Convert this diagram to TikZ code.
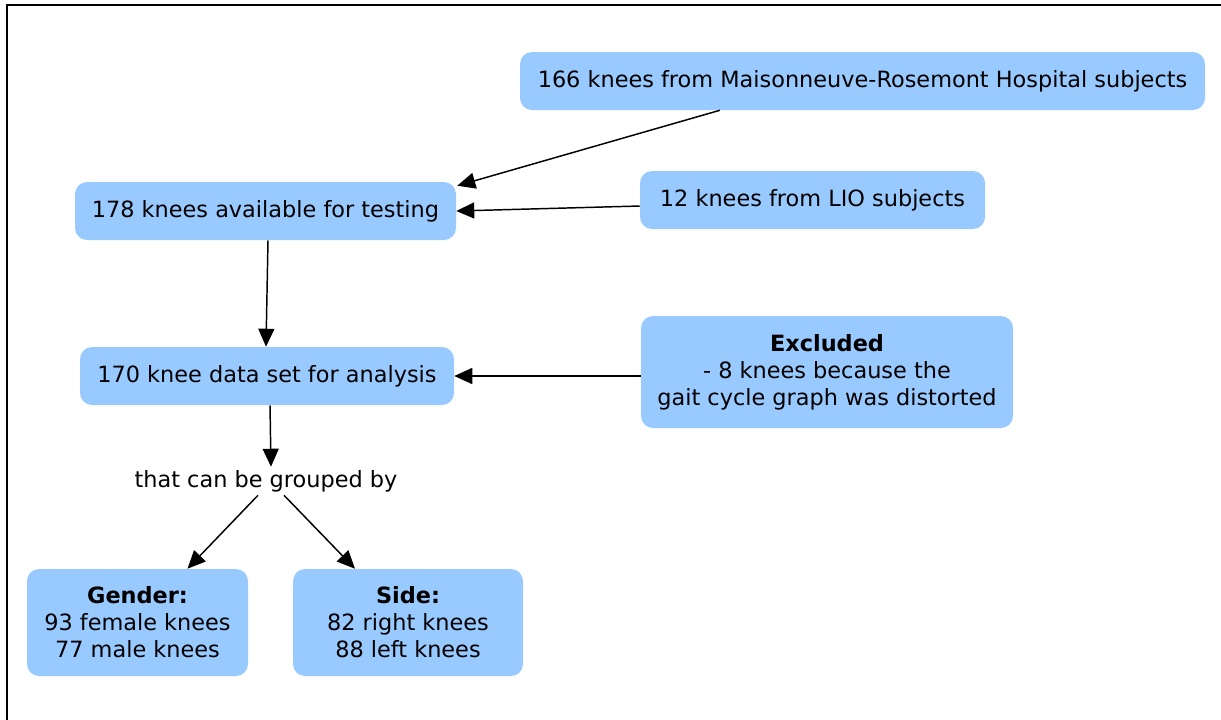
\documentclass[tikz,border=0pt]{standalone}
\usepackage{fontspec}
\setmainfont{DejaVu Sans}
\usetikzlibrary{arrows.meta,calc}
\definecolor{boxblue}{RGB}{153,202,255}
\tikzset{
  box/.style={fill=boxblue, rounded corners=9pt, inner sep=0pt, align=center,
    font=\fontsize{16.8}{20.25}\selectfont},
  arr/.style={-{Triangle[length=13.5pt,width=12pt]}, line width=1.1pt}
}
\begin{document}
\begin{tikzpicture}[x=0.75pt,y=-0.75pt]
  \useasboundingbox (0,0) rectangle (1221,719);
  \clip (0,0) rectangle (1221,719);
  \draw[line width=1.5pt] (7,730)--(7,5)--(1230,5);
  \node[box, minimum width=513.75pt, minimum height=43.5pt] (mrh) at (862.5,81) {166 knees from Maisonneuve-Rosemont Hospital subjects};
  \node[box, minimum width=285.75pt, minimum height=43.5pt] (avail) at (265.5,211) {178 knees available for testing};
  \node[box, minimum width=258.75pt, minimum height=43.5pt] (lio) at (812.5,200) {12 knees from LIO subjects};
  \node[box, minimum width=280.5pt, minimum height=43.5pt] (anal) at (267,376) {170 knee data set for analysis};
  \node[box, minimum width=279pt, minimum height=84pt] (excl) at (827,372) {\textbf{Excluded}\\- 8 knees because the \\gait cycle graph was distorted};
  \node[font=\fontsize{16.8}{20.25}\selectfont, inner sep=0pt, minimum height=21pt] (group) at (266,481) {that can be grouped by};
  \node[box, minimum width=165.75pt, minimum height=80.25pt] (gender) at (137.5,622.5) {\textbf{Gender:}\\93 female knees\\77 male knees};
  \node[box, minimum width=172.5pt, minimum height=80.25pt] (side) at (408,622.5) {\textbf{Side:}\\82 right knees\\88 left knees};
  \draw[arr] ($(mrh.south west)!0.292!(mrh.south east)$) -- ($(avail.north east)+(1,4)$);
  \draw[arr] ($(lio.west)+(0,6)$) -- (avail.east);
  \draw[arr] ($(avail.south)+(2.5,0)$) -- ($(anal.north)+(-1,0)$);
  \draw[arr] (excl.west |- anal.east) -- (anal.east);
  \draw[arr] ($(anal.south)+(3,0)$) -- ($(group.north)+(5,0)$);
  \draw[arr] ($(group.south)+(-8,0)$) -- ($(gender.north)+(50,0)$);
  \draw[arr] ($(group.south)+(18,0)$) -- ($(side.north)+(-53,0)$);
\end{tikzpicture}
\end{document}
